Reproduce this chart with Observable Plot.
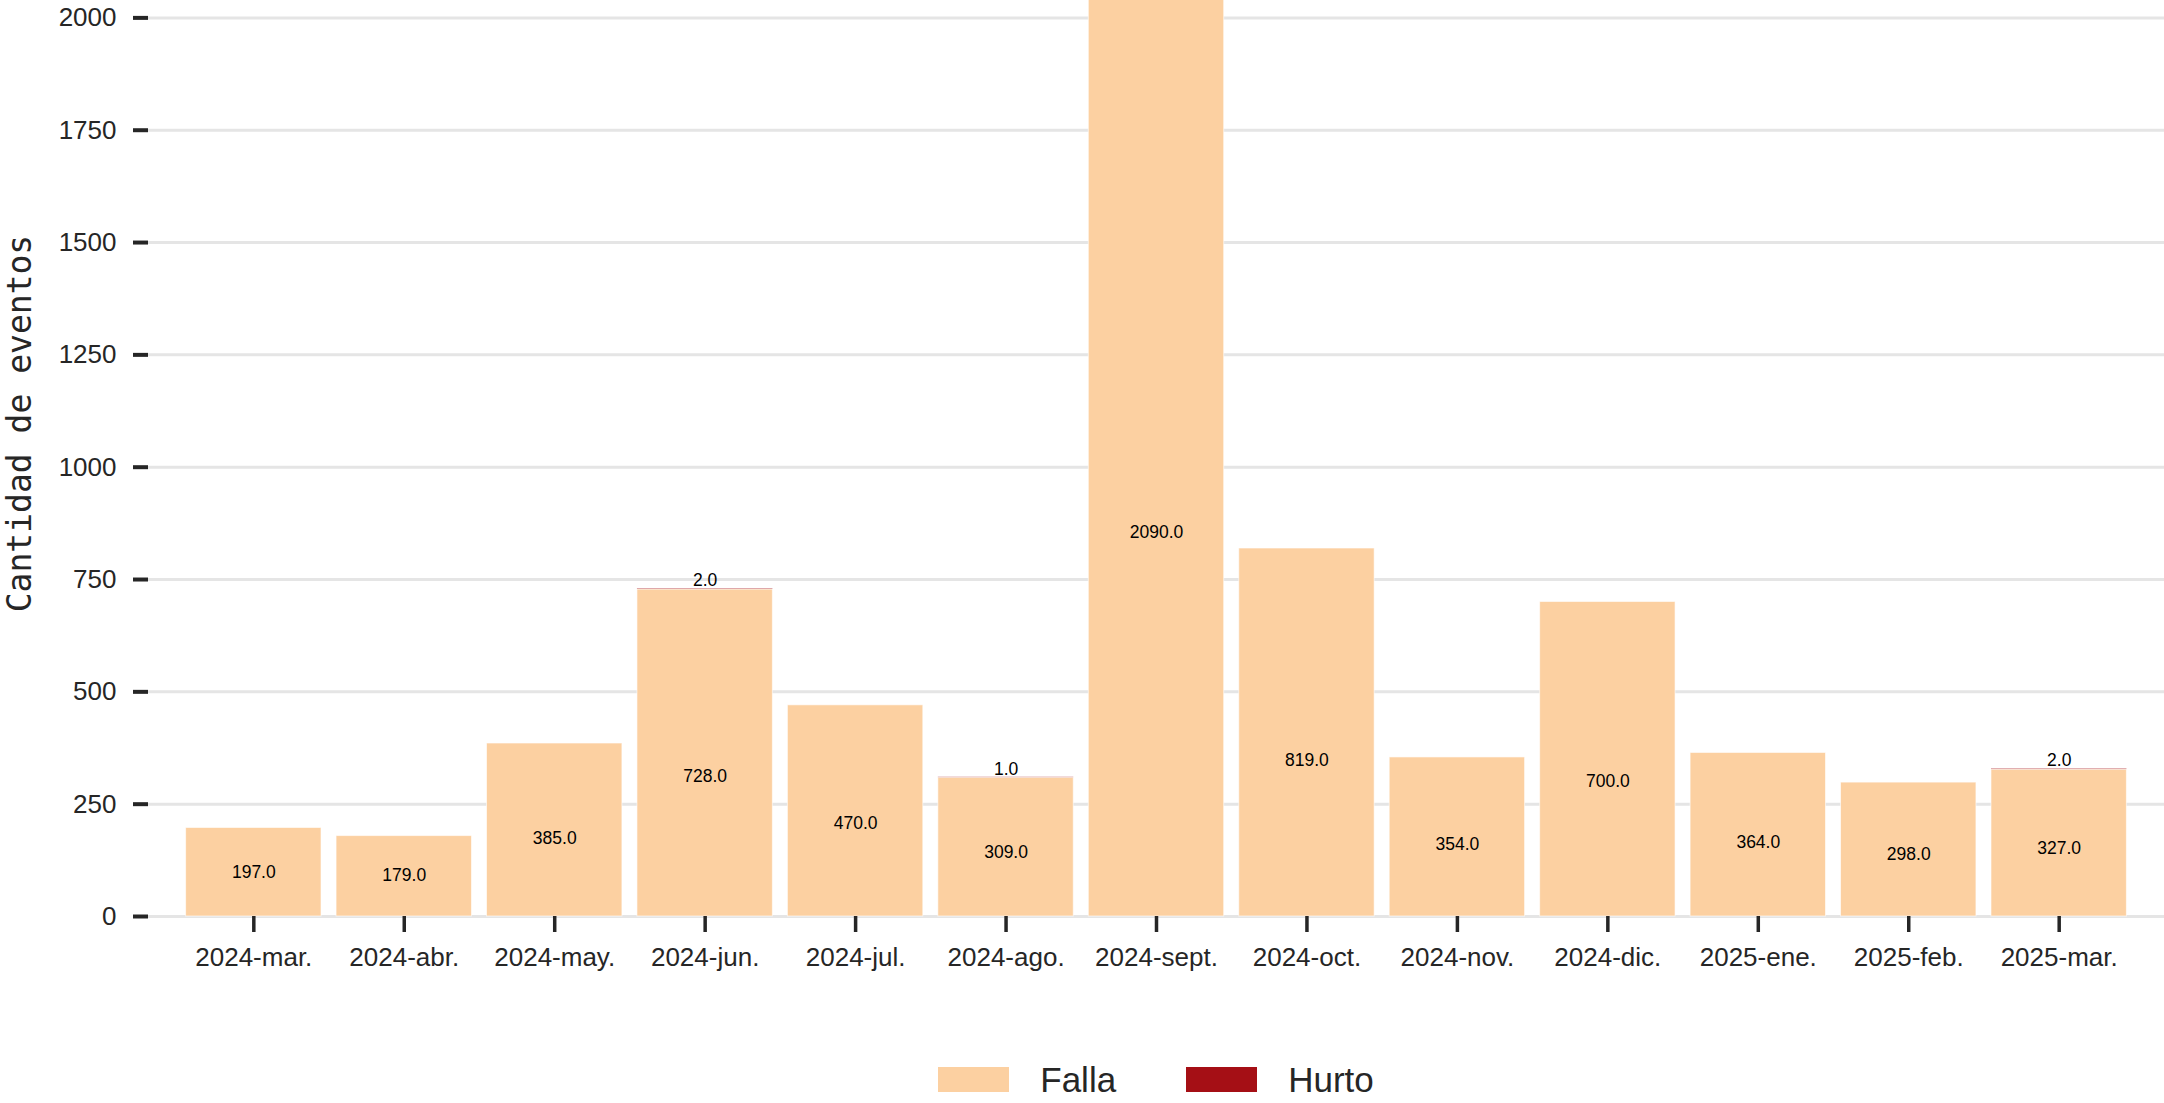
<!DOCTYPE html>
<html>
<head>
<meta charset="utf-8">
<script src="https://cdn.jsdelivr.net/npm/d3@7"></script>
<script src="https://cdn.jsdelivr.net/npm/@observablehq/plot@0.6"></script>
<style>
html, body { margin: 0; padding: 0; background: #fff; width: 2164px; height: 1103px; overflow: hidden; position: relative; }
#chart { position: absolute; left: 0; top: -70px; }
#legend { position: absolute; left: 148px; width: 2016px; top: 1067px; height: 25px; display: flex; justify-content: center; align-items: center;
  font-family: "Liberation Sans", Arial, sans-serif; font-size: 35px; color: #262626; }
#legend .item { display: flex; align-items: center; margin: 0 35px; }
#legend .sw { width: 71px; height: 25px; margin-right: 31px; }
#legend .lab { line-height: 25px; position: relative; top: 0px; }
</style>
</head>
<body>
<div id="chart"></div>
<div id="legend"></div>
<script>
const months = ["2024-mar.", "2024-abr.", "2024-may.", "2024-jun.", "2024-jul.", "2024-ago.", "2024-sept.", "2024-oct.", "2024-nov.", "2024-dic.", "2025-ene.", "2025-feb.", "2025-mar."];
const falla = [197, 179, 385, 728, 470, 309, 2090, 819, 354, 700, 364, 298, 327];
const hurto = [0, 0, 0, 2, 0, 1, 0, 0, 0, 0, 0, 0, 2];
const types = ["Falla", "Hurto"];
const typeColors = ["#fcd0a1", "#a50f15"];
const yTicks = [0, 250, 500, 750, 1000, 1250, 1500, 1750, 2000];
const yLabel = "Cantidad de eventos";

const rows = months.flatMap((m, i) => [
  {month: m, type: "Falla", count: falla[i]},
  {month: m, type: "Hurto", count: hurto[i]}
]);
const fallaRows = months.map((m, i) => ({month: m, v: falla[i]}));
const hurtoRows = months.map((m, i) => ({month: m, v: hurto[i], total: falla[i] + hurto[i]})).filter(d => d.v > 0);
const yMax = d3.max(months, (m, i) => falla[i] + hurto[i]) * 1.05;
const fmt = d3.format(".1f");

const plot = Plot.plot({
  width: 2164,
  height: 1086,
  marginLeft: 148,
  marginRight: 0,
  marginTop: 0,
  marginBottom: 100,
  style: {fontFamily: "'Liberation Sans', Arial, sans-serif", fontSize: "26px", color: "#262626", background: "white", overflow: "visible"},
  x: {domain: months, paddingInner: 0.1, paddingOuter: 0.25, round: false, label: null},
  y: {domain: [0, yMax], label: null},
  color: {domain: types, range: typeColors},
  marks: [
    Plot.gridY(yTicks, {stroke: "#e5e5e5", strokeOpacity: 1, strokeWidth: 3}),
    Plot.barY(rows, {x: "month", y: "count", fill: "type", stroke: "white", strokeWidth: 1, strokeOpacity: 0.6, shapeRendering: "geometricPrecision"}),
    Plot.text(fallaRows, {x: "month", y: d => 0.4 * d.v + 20, text: d => fmt(d.v), fontSize: 17.5, fill: "black"}),
    Plot.text(hurtoRows, {x: "month", y: "total", text: d => fmt(d.v), dy: -8, fontSize: 17.5, fill: "black"}),
    Plot.axisX({tickSize: 16, tickPadding: 15, fontSize: 26, strokeWidth: 3.5, label: null}),
    Plot.axisY(yTicks, {tickSize: 15, tickPadding: 17, fontSize: 26, strokeWidth: 4, tickFormat: d3.format("d"), label: null}),
    Plot.text([yLabel], {frameAnchor: "left", textAnchor: "middle", rotate: -90, dx: -128, fontFamily: "'DejaVu Sans Mono', monospace", fontSize: 33, fill: "#262626"})
  ]
});
document.getElementById("chart").appendChild(plot);

const color = plot.scale("color");
const legend = d3.select("#legend");
color.domain.forEach((t, i) => {
  const it = legend.append("div").attr("class", "item");
  it.append("div").attr("class", "sw").style("background", color.range[i]);
  it.append("span").attr("class", "lab").text(t);
});
</script>
</body>
</html>
